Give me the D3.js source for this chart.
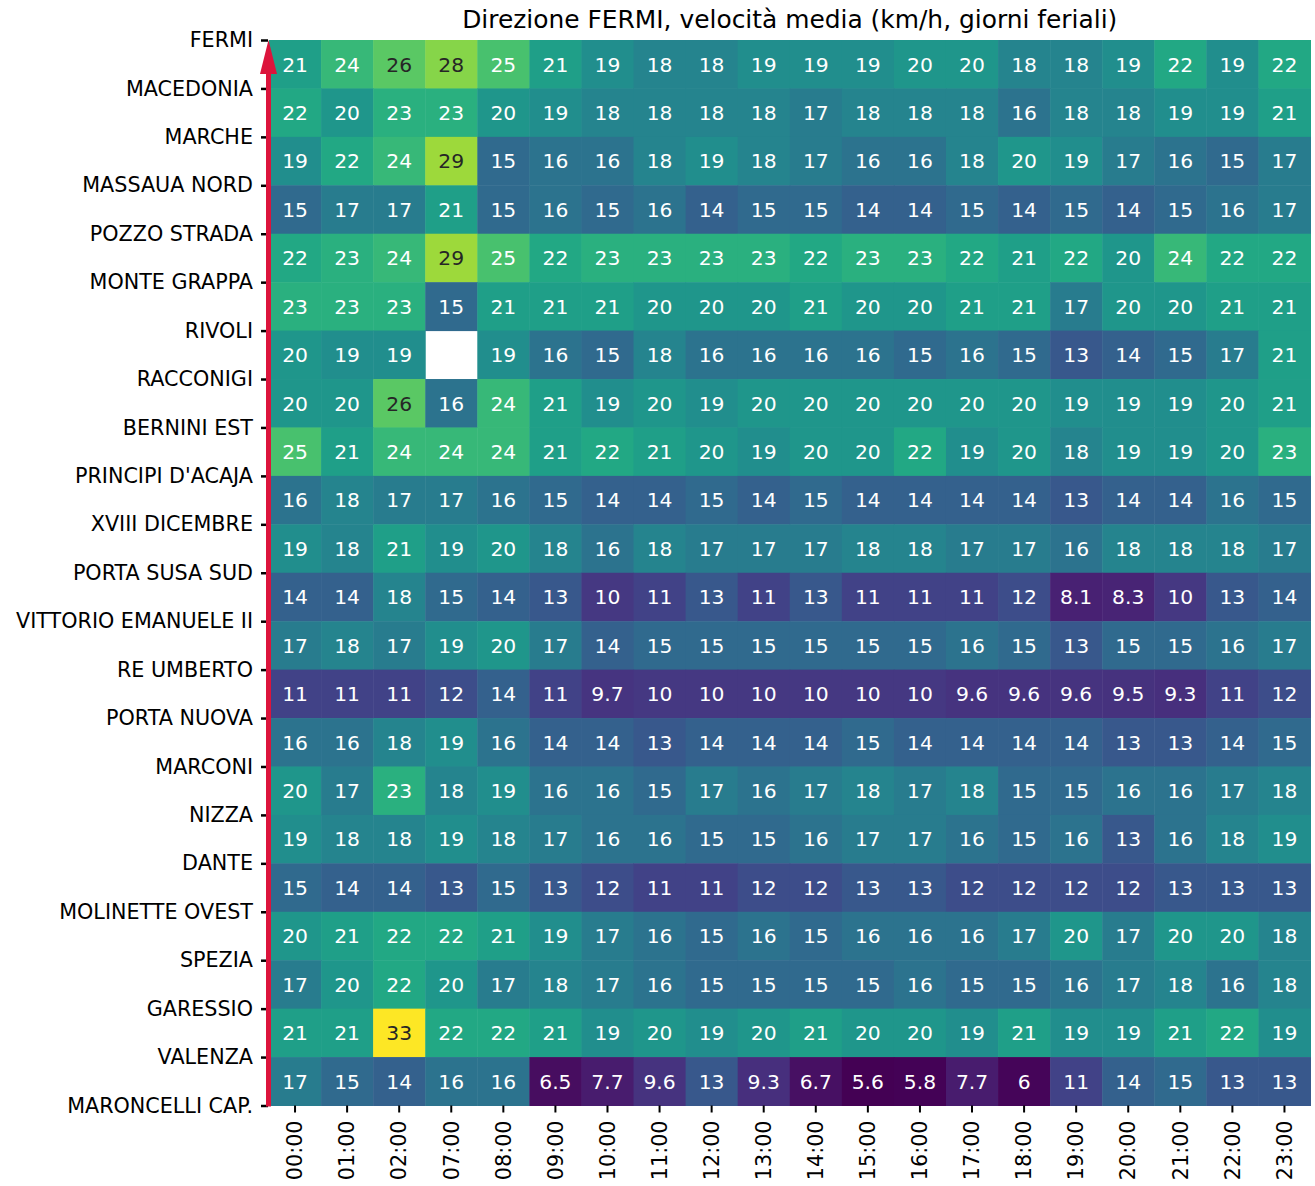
<!DOCTYPE html>
<html>
<head>
<meta charset="utf-8">
<script src="https://cdn.jsdelivr.net/npm/d3@7"></script>
<style>
  html, body { margin: 0; padding: 0; background: #fff; }
  svg { display: block; font-family: "DejaVu Sans", sans-serif; }
</style>
</head>
<body>
<svg id="chart" width="1315" height="1186"></svg>
<script>
const title = "Direzione FERMI, velocità media (km/h, giorni feriali)";
const hours = ["00:00","01:00","02:00","07:00","08:00","09:00","10:00","11:00","12:00","13:00",
               "14:00","15:00","16:00","17:00","18:00","19:00","20:00","21:00","22:00","23:00"];
const stations = ["FERMI","MACEDONIA","MARCHE","MASSAUA NORD","POZZO STRADA","MONTE GRAPPA","RIVOLI",
  "RACCONIGI","BERNINI EST","PRINCIPI D'ACAJA","XVIII DICEMBRE","PORTA SUSA SUD","VITTORIO EMANUELE II",
  "RE UMBERTO","PORTA NUOVA","MARCONI","NIZZA","DANTE","MOLINETTE OVEST","SPEZIA","GARESSIO","VALENZA",
  "MARONCELLI CAP."];
// one row per segment between consecutive stations (top to bottom); null = no data
const speeds = [
  [21,24,26,28,25,21,19,18,18,19,19,19,20,20,18,18,19,22,19,22],
  [22,20,23,23,20,19,18,18,18,18,17,18,18,18,16,18,18,19,19,21],
  [19,22,24,29,15,16,16,18,19,18,17,16,16,18,20,19,17,16,15,17],
  [15,17,17,21,15,16,15,16,14,15,15,14,14,15,14,15,14,15,16,17],
  [22,23,24,29,25,22,23,23,23,23,22,23,23,22,21,22,20,24,22,22],
  [23,23,23,15,21,21,21,20,20,20,21,20,20,21,21,17,20,20,21,21],
  [20,19,19,null,19,16,15,18,16,16,16,16,15,16,15,13,14,15,17,21],
  [20,20,26,16,24,21,19,20,19,20,20,20,20,20,20,19,19,19,20,21],
  [25,21,24,24,24,21,22,21,20,19,20,20,22,19,20,18,19,19,20,23],
  [16,18,17,17,16,15,14,14,15,14,15,14,14,14,14,13,14,14,16,15],
  [19,18,21,19,20,18,16,18,17,17,17,18,18,17,17,16,18,18,18,17],
  [14,14,18,15,14,13,10,11,13,11,13,11,11,11,12,8.1,8.3,10,13,14],
  [17,18,17,19,20,17,14,15,15,15,15,15,15,16,15,13,15,15,16,17],
  [11,11,11,12,14,11,9.7,10,10,10,10,10,10,9.6,9.6,9.6,9.5,9.3,11,12],
  [16,16,18,19,16,14,14,13,14,14,14,15,14,14,14,14,13,13,14,15],
  [20,17,23,18,19,16,16,15,17,16,17,18,17,18,15,15,16,16,17,18],
  [19,18,18,19,18,17,16,16,15,15,16,17,17,16,15,16,13,16,18,19],
  [15,14,14,13,15,13,12,11,11,12,12,13,13,12,12,12,12,13,13,13],
  [20,21,22,22,21,19,17,16,15,16,15,16,16,16,17,20,17,20,20,18],
  [17,20,22,20,17,18,17,16,15,15,15,15,16,15,15,16,17,18,16,18],
  [21,21,33,22,22,21,19,20,19,20,21,20,20,19,21,19,19,21,22,19],
  [17,15,14,16,16,6.5,7.7,9.6,13,9.3,6.7,5.6,5.8,7.7,6,11,14,15,13,13]
];

const svg = d3.select("#chart");
const pLeft = 269, pRight = 1310.5, pTop = 40, pBottom = 1105.5;

const rowIdx = d3.range(speeds.length);
const x = d3.scaleBand().domain(hours).range([pLeft, pRight]).padding(0);
const y = d3.scaleBand().domain(rowIdx).range([pTop, pBottom]).padding(0);
const yLab = d3.scalePoint().domain(stations).range([pTop, pBottom]);

const flat = speeds.flat().filter(v => v != null);
const color = d3.scaleSequential(d3.interpolateViridis).domain([d3.min(flat), d3.max(flat)]);

function lum(c) {
  const r = d3.rgb(c);
  const f = v => { v /= 255; return v <= 0.03928 ? v / 12.92 : Math.pow((v + 0.055) / 1.055, 2.4); };
  return 0.2126 * f(r.r) + 0.7152 * f(r.g) + 0.0722 * f(r.b);
}

const cells = [];
speeds.forEach((row, i) => row.forEach((v, j) => cells.push({ i, h: hours[j], v })));

svg.append("g").selectAll("rect").data(cells.filter(d => d.v != null)).join("rect")
  .attr("x", d => x(d.h)).attr("y", d => y(d.i))
  .attr("width", x.bandwidth() + 0.5).attr("height", y.bandwidth() + 0.5)
  .attr("fill", d => color(d.v));

svg.append("g").selectAll("text").data(cells.filter(d => d.v != null)).join("text")
  .attr("x", d => x(d.h) + x.bandwidth() / 2)
  .attr("y", d => y(d.i) + y.bandwidth() / 2)
  .attr("dy", "0.36em")
  .attr("text-anchor", "middle")
  .attr("font-size", 20.3)
  .attr("fill", d => lum(color(d.v)) > 0.408 ? "#262626" : "#ffffff")
  .text(d => String(d.v));

// x axis
const xAxis = d3.axisBottom(x).tickSize(7).tickPadding(8);
const gx = svg.append("g").attr("transform", `translate(0,${pBottom})`).call(xAxis);
gx.select(".domain").remove();
gx.selectAll(".tick line").attr("stroke", "#000").attr("stroke-width", 2);
gx.selectAll(".tick text")
  .attr("font-size", 20.7).attr("font-family", "DejaVu Sans").attr("fill", "#000")
  .attr("transform", "rotate(-90)")
  .attr("text-anchor", "end").attr("x", -15).attr("y", 0).attr("dy", "0.35em");

// y axis (station labels at segment boundaries)
const yAxis = d3.axisLeft(yLab).tickSize(7).tickPadding(8);
const gy = svg.append("g").attr("transform", `translate(${pLeft - 1},0)`).call(yAxis);
gy.select(".domain").remove();
gy.selectAll(".tick line").attr("stroke", "#000").attr("stroke-width", 2.5);
gy.selectAll(".tick text").attr("font-size", 20.7).attr("font-family", "DejaVu Sans").attr("fill", "#000");

// direction arrow
const ax = pLeft - 0.5;
svg.append("line").attr("x1", ax).attr("x2", ax).attr("y1", pBottom + 1).attr("y2", pTop + 30)
  .attr("stroke", "#dc143c").attr("stroke-width", 5);
svg.append("path")
  .attr("d", `M${ax},${pTop} L${ax - 8.5},${pTop + 34} L${ax + 8.5},${pTop + 34} Z`)
  .attr("fill", "#dc143c");

// title
svg.append("text").attr("x", (pLeft + pRight) / 2).attr("y", 28)
  .attr("text-anchor", "middle").attr("font-size", 24.9).attr("fill", "#000")
  .text(title);
</script>
</body>
</html>
